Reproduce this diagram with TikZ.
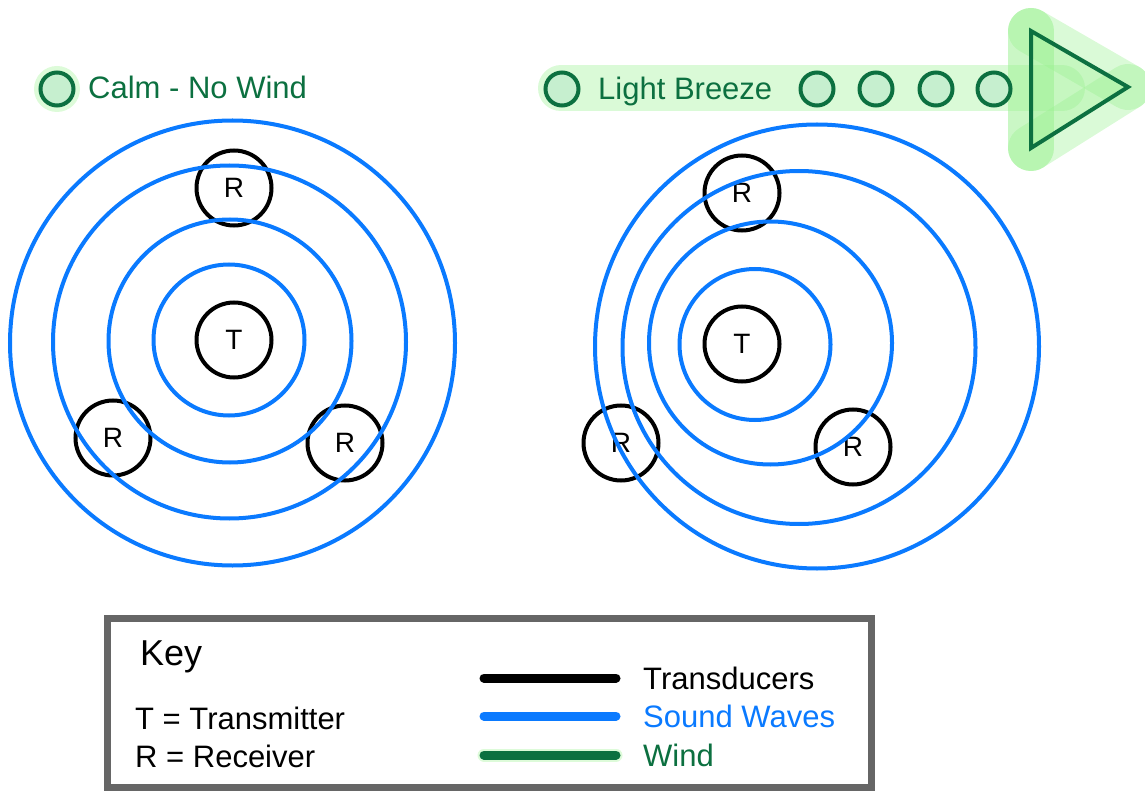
\documentclass[tikz,border=0pt]{standalone}
\usepackage{fontspec}
\setmainfont{Liberation Sans}
\definecolor{wave}{RGB}{10,122,255}
\definecolor{wind}{RGB}{12,112,64}
\definecolor{windfill}{RGB}{198,239,207}
\definecolor{glowc}{RGB}{150,240,140}
\definecolor{halo}{RGB}{221,251,217}
\definecolor{keygray}{RGB}{102,102,102}
\begin{document}
\begin{tikzpicture}[x=1pt,y=-1pt,
  trans/.style={circle,draw=black,line width=4pt,minimum size=75pt,inner sep=0pt,font=\fontsize{28}{32}\selectfont},
  ring/.style={draw=wave,line width=4pt},
  windc/.style={circle,draw=wind,fill=windfill,line width=4pt,minimum size=33pt,inner sep=0pt},
  glow/.style={draw=glowc,draw opacity=0.35,line width=46pt,line cap=round,line join=round},
  lbl/.style={font=\fontsize{31}{36}\selectfont,anchor=base west,inner sep=0pt},
  keyline/.style={line width=9pt,line cap=round}
]
\useasboundingbox (0,0) rectangle (1145,791);

% ---- Calm - No Wind
\fill[halo] (57,89) circle (23);
\node[windc] (calm) at (57,89) {};
\node[lbl,text=wind] (calmtxt) at (88,99) {Calm - No Wind};

% ---- Light Breeze band and arrow
\draw[glow] (561,88.5) -- (1062,88.5);
\draw[glow] (1031,31) -- (1128,87);
\draw[glow] (1031,148) -- (1128,87);
\draw[glow,draw opacity=0.5] (1031,31) -- (1031,148);
\draw[wind,line width=4pt,line join=miter,fill=glowc,fill opacity=0.3] (1031,31) -- (1128,87) -- (1031,148) -- cycle;
\node[windc] (b0) at (562,89) {};
\node[lbl,text=wind] (breezetxt) at (598,100) {Light Breeze};
\node[windc] (b1) at (817,89) {};
\node[windc] (b2) at (876,89) {};
\node[windc] (b3) at (936,89) {};
\node[windc] (b4) at (994,89) {};

% ---- Left diagram (calm)
\node[trans] (T1) at (234,340) {T};
\node[trans] (R1a) at (234,188) {R};
\node[trans] (R1b) at (113,438) {R};
\node[trans] (R1c) at (345,443) {R};
\draw[ring] (229,340) circle (75.5);
\draw[ring] (230,341) circle (121.5);
\draw[ring] (229.5,342) circle (176.5);
\draw[ring] (232.5,343) circle (222.5);

% ---- Right diagram (light breeze)
\node[trans] (T2) at (742,344) {T};
\node[trans] (R2a) at (742,193) {R};
\node[trans] (R2b) at (621,443) {R};
\node[trans] (R2c) at (853,447) {R};
\draw[ring] (755,344.5) circle (75.5);
\draw[ring] (770.5,343) circle (121.5);
\draw[ring] (799,347.5) circle (176.5);
\draw[ring] (817,346.5) circle (222);

% ---- Key
\draw[keygray,line width=7pt,fill=white] (107.5,618.5) rectangle (871,787);
\node[font=\fontsize{36}{42}\selectfont,anchor=base west,inner sep=0pt] (key) at (140,665) {Key};
\node[lbl] (tdef) at (135,729) {T = Transmitter};
\node[lbl] (rdef) at (135,767) {R = Receiver};
\coordinate (k1a) at (484,678);
\coordinate (k1b) at (616,678);
\coordinate (k2a) at (484,716);
\coordinate (k2b) at (616,716);
\coordinate (k3a) at (484,755);
\coordinate (k3b) at (616,755);
\draw[keyline,black] (k1a) -- (k1b);
\draw[keyline,wave] (k2a) -- (k2b);
\draw[line width=13pt,line cap=round,halo] (k3a) -- (k3b);
\draw[keyline,wind] (k3a) -- (k3b);
\node[lbl] (ltrans) at (643,689) {Transducers};
\node[lbl,text=wave] (lwave) at (643,727) {Sound Waves};
\node[lbl,text=wind] (lwind) at (643,766) {Wind};
\end{tikzpicture}
\end{document}
